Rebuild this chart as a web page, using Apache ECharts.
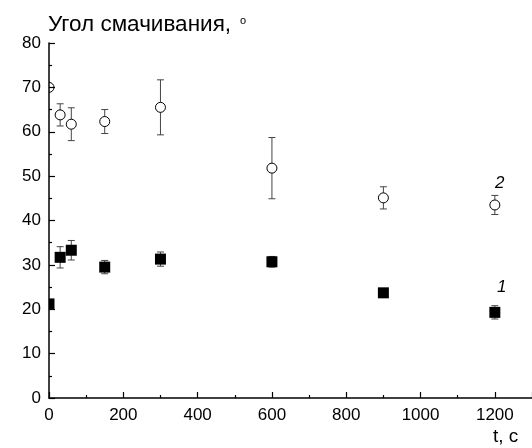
<!DOCTYPE html>
<html>
<head>
<meta charset="utf-8">
<script src="https://cdn.jsdelivr.net/npm/echarts@6/dist/echarts.min.js"></script>
<style>html,body{margin:0;padding:0;background:#fff;}#c{width:532px;height:448px;}</style>
</head>
<body>
<div id="c"></div>
<script>
// Data
var times = [0, 30, 60, 150, 300, 600, 900, 1200];
var angle1 = [21.2, 31.7, 33.3, 29.5, 31.3, 30.7, 23.7, 19.3];
var err1   = [0, 2.4, 2.2, 1.5, 1.6, 1.2, 0.9, 1.5];
var angle2 = [70.0, 63.8, 61.7, 62.3, 65.5, 51.8, 45.1, 43.5];
var err2   = [0, 2.5, 3.7, 2.7, 6.2, 6.9, 2.5, 2.15];
var seriesNames = ['1', '2'];
var xTicks = [0, 200, 400, 600, 800, 1000, 1200];
var yTicks = [0, 10, 20, 30, 40, 50, 60, 70, 80];
var titleText = 'Угол смачивания, ';
var xName = 't, c';

var FONT = '"Liberation Sans", Arial, sans-serif';

function errs(vals, e) {
  var out = [];
  times.forEach(function (t, i) { if (e[i] > 0) out.push([t, vals[i] - e[i], vals[i] + e[i]]); });
  return out;
}
function errRender(params, api) {
  var x = api.value(0);
  var lo = api.coord([x, api.value(1)]);
  var hi = api.coord([x, api.value(2)]);
  var w = 3.5;
  var st = { stroke: '#444', lineWidth: 1 };
  return {
    type: 'group',
    children: [
      { type: 'line', shape: { x1: lo[0], y1: lo[1], x2: hi[0], y2: hi[1] }, style: st },
      { type: 'line', shape: { x1: lo[0] - w, y1: lo[1], x2: lo[0] + w, y2: lo[1] }, style: st },
      { type: 'line', shape: { x1: hi[0] - w, y1: hi[1], x2: hi[0] + w, y2: hi[1] }, style: st }
    ]
  };
}
function markerRender(kind, labelText, lblDx, lblDy) {
  return function (params, api) {
    var p = api.coord([api.value(0), api.value(1)]);
    var left = params.coordSys.x;
    var r = 5.5;
    var children = [];
    var clipped = p[0] - r < left;
    if (kind === 'rect') {
      var x0 = Math.max(p[0] - r, left);
      children.push({ type: 'rect', shape: { x: x0, y: p[1] - r, width: p[0] + r - x0, height: 2 * r },
        style: { fill: '#000' } });
    } else {
      if (clipped) {
        children.push({ type: 'arc', shape: { cx: p[0], cy: p[1], r: r - 0.5, startAngle: -Math.PI / 2, endAngle: Math.PI / 2 },
          style: { stroke: '#000', lineWidth: 1, fill: null } });
      } else {
        children.push({ type: 'circle', shape: { cx: p[0], cy: p[1], r: r - 0.5 },
          style: { fill: '#fff', stroke: '#000', lineWidth: 1 } });
      }
    }
    if (params.dataIndex === times.length - 1) {
      children.push({ type: 'text', x: p[0] + lblDx, y: p[1] + lblDy,
        style: { text: labelText, fontSize: 17, fontStyle: 'italic', fill: '#000', fontFamily: FONT,
          align: 'center', verticalAlign: 'middle' } });
    }
    return { type: 'group', children: children };
  };
}
function pts(vals) { return times.map(function (t, i) { return [t, vals[i]]; }); }

var chart = echarts.init(document.getElementById('c'), null, { renderer: 'canvas' });
var axisLbl = { color: '#000', fontSize: 17, fontFamily: FONT };
chart.setOption({
  animation: false,
  backgroundColor: '#fff',
  grid: { left: 49, right: -5, top: 43, bottom: 50, containLabel: false },
  xAxis: {
    type: 'value', min: 0, max: 1300, interval: 200,
    axisLine: { show: true, onZero: false, lineStyle: { color: '#000', width: 1.5 } },
    axisTick: { show: true, inside: true, length: 6, lineStyle: { color: '#000', width: 1.2 } },
    minorTick: { show: true, splitNumber: 2, length: 3, lineStyle: { color: '#000', width: 1.2 } },
    splitLine: { show: false },
    axisLabel: Object.assign({ margin: 9, showMaxLabel: false,
      formatter: function (v) { return xTicks.indexOf(v) >= 0 ? String(v) : ''; } }, axisLbl)
  },
  yAxis: {
    type: 'value', min: 0, max: 80, interval: 10,
    axisLine: { show: true, lineStyle: { color: '#000', width: 1.5 } },
    axisTick: { show: true, inside: true, length: 6, lineStyle: { color: '#000', width: 1.2 } },
    minorTick: { show: true, splitNumber: 2, length: 3, lineStyle: { color: '#000', width: 1.2 } },
    splitLine: { show: false },
    axisLabel: Object.assign({ margin: 8,
      formatter: function (v) { return yTicks.indexOf(v) >= 0 ? String(v) : ''; } }, axisLbl)
  },
  graphic: [
    { type: 'text', left: 48, top: 13, style: { text: titleText, fontSize: 22.5, fill: '#000', fontFamily: FONT } },
    { type: 'text', left: 240, top: 15, style: { text: 'o', fontSize: 11, fill: '#000', fontFamily: FONT } },
    { type: 'text', left: 493, top: 427, style: { text: xName, fontSize: 19, fill: '#000', fontFamily: FONT } }
  ],
  series: [
    { type: 'custom', name: 'err1', renderItem: errRender, data: errs(angle1, err1), z: 1, clip: true },
    { type: 'custom', name: 'err2', renderItem: errRender, data: errs(angle2, err2), z: 1, clip: true },
    { type: 'custom', name: seriesNames[0], renderItem: markerRender('rect', seriesNames[0], 7, -25),
      data: pts(angle1), z: 3 },
    { type: 'custom', name: seriesNames[1], renderItem: markerRender('circle', seriesNames[1], 5, -22),
      data: pts(angle2), z: 3 }
  ]
});
</script>
</body>
</html>
